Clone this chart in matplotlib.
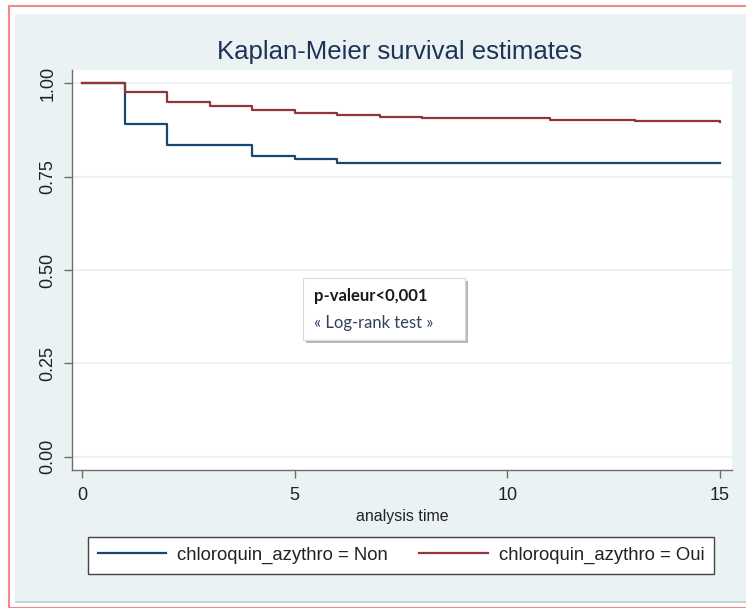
import numpy as np
import matplotlib
matplotlib.use("Agg")
import matplotlib.pyplot as plt
from matplotlib.patches import Rectangle

# donnees (Kaplan-Meier)
temps_non = [0, 1, 2, 4, 5, 6, 15]
surv_non = [1.0, 0.890, 0.835, 0.806, 0.798, 0.787, 0.786]
temps_oui = [0, 1, 2, 3, 4, 5, 6, 7, 8, 11, 13, 15]
surv_oui = [1.0, 0.976, 0.951, 0.939, 0.928, 0.921, 0.914, 0.910, 0.906, 0.901, 0.898, 0.897]

lab_non = "chloroquin_azythro = Non"
lab_oui = "chloroquin_azythro = Oui"
yticks = [0, 0.25, 0.5, 0.75, 1.0]
xticks = [0, 5, 10, 15]

plt.rcParams['font.family'] = ['Liberation Sans', 'DejaVu Sans']

W, H = 746, 608
fig = plt.figure(figsize=(W / 100, H / 100), dpi=100, facecolor='white')

# cadre rose + fond stata (derriere les axes)
fig.patches.append(Rectangle((9 / W, 0), 1, 1 - 6 / H, transform=fig.transFigure,
                             facecolor='none', edgecolor='#f4888a', lw=1.5, zorder=-10))
fig.patches.append(Rectangle((15 / W, 5 / H), 1, 1 - 14 / H - 5 / H, transform=fig.transFigure,
                             facecolor='#c9cfd2', edgecolor='none', zorder=-10))
fig.patches.append(Rectangle((15 / W, 7 / H), 1, 1 - 14 / H - 7 / H, transform=fig.transFigure,
                             facecolor='#eaf2f3', edgecolor='none', zorder=-9))

ax = fig.add_axes([72 / W, 1 - 470 / H, 660 / W, 400 / H])
ax.set_facecolor('white')

ax.step(temps_non, surv_non, where='post', color='#1a476f', lw=1.6, label=lab_non)
ax.step(temps_oui, surv_oui, where='post', color='#90353b', lw=1.6, label=lab_oui)

ax.set_xlim(-0.235, 15.28)
ax.set_ylim(-0.0356, 1.0356)
ax.set_xticks(xticks)
ax.set_yticks(yticks)
ax.set_yticklabels(["%.2f" % v for v in yticks], rotation=90, va='center')
for g in yticks:
    ax.axhline(g, color='#eaf2f3', lw=1.5, zorder=0)

for s in ['top', 'right']:
    ax.spines[s].set_visible(False)
for s in ['left', 'bottom']:
    ax.spines[s].set_color('#6e6e6e')
    ax.spines[s].set_linewidth(1.0)
ax.tick_params(axis='both', direction='out', length=6, width=1, color='#6e6e6e',
               labelsize=13, labelcolor='#222222')
ax.tick_params(axis='y', pad=5)
ax.tick_params(axis='x', pad=6)

ax.set_xlabel("analysis time", fontsize=11.5, color='#222222', labelpad=4)
fig.text(400 / W, 1 - 52 / H, "Kaplan-Meier survival estimates", ha='center', va='center',
         fontsize=18.5, color='#1e3358')

# encadre p-valeur
x0, x1 = (303 - 72) / 660, (465 - 72) / 660
y0, y1 = (470 - 340) / 400, (470 - 278) / 400
ax.add_patch(Rectangle((x0 + 0.005, y0 - 0.008), x1 - x0, y1 - y0, transform=ax.transAxes,
                       facecolor='#b8b8b8', edgecolor='none', zorder=4))
ax.add_patch(Rectangle((x0, y0), x1 - x0, y1 - y0, transform=ax.transAxes,
                       facecolor='white', edgecolor='#d8d8d8', lw=0.8, zorder=5))
ax.text(x0 + 0.016, (470 - 296) / 400, "p-valeur<0,001", transform=ax.transAxes,
        fontsize=12, fontweight='bold', family=['Lato', 'DejaVu Sans'], color='#1a1a1a',
        va='center', zorder=6)
ax.text(x0 + 0.016, (470 - 323) / 400, "« Log-rank test »", transform=ax.transAxes,
        fontsize=12, family=['Lato', 'DejaVu Sans'], color='#33415f', va='center', zorder=6)

leg = fig.legend(loc='center', bbox_to_anchor=(401 / W, 1 - 555.5 / H), ncol=2,
                 fontsize=13.3, frameon=True, fancybox=False, handlelength=3.7,
                 columnspacing=1.7, handletextpad=0.6, borderpad=0.55, borderaxespad=0)
leg.get_frame().set_edgecolor('#444444')
leg.get_frame().set_linewidth(1.0)
leg.get_frame().set_facecolor('white')
leg.get_frame().set_alpha(1)
for t in leg.get_texts():
    t.set_color('#222222')

fig.savefig("out.png", dpi=100, facecolor=fig.get_facecolor())
